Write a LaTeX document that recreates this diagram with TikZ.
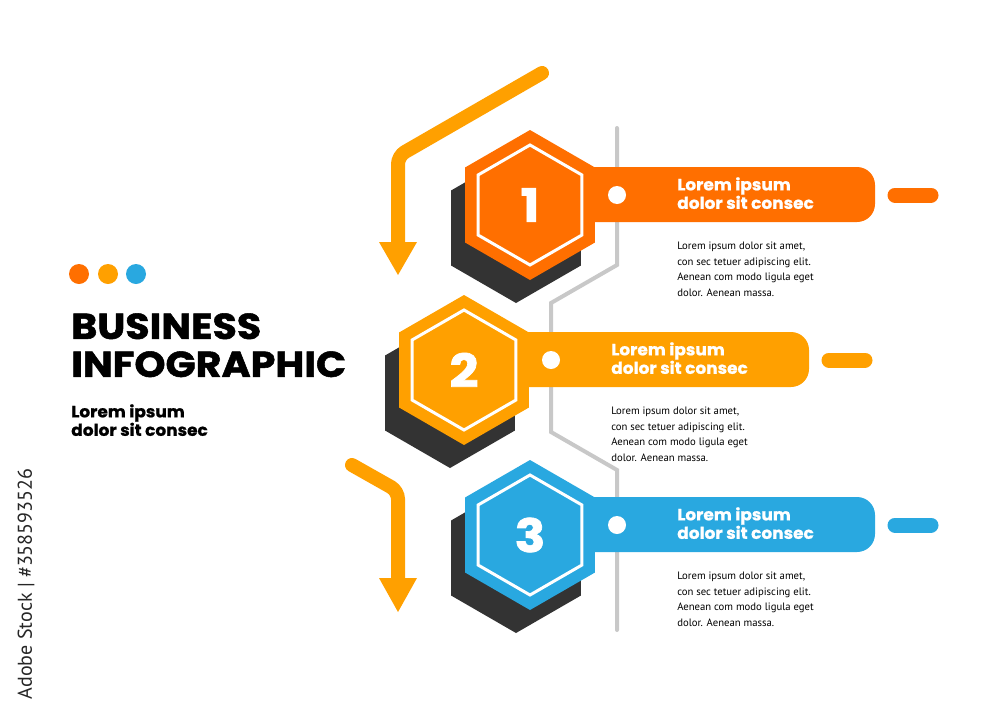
\documentclass[tikz,border=0pt]{standalone}
\usepackage{fontspec}
\usepackage{xcolor}
\usepackage{tikz}
\usetikzlibrary{arrows.meta}
\setmainfont{PT Sans}
\newfontfamily\headfont{Poppins}[BoldFeatures={FakeStretch=1.04,FakeBold=1}]
\newfontfamily\titlefont{Poppins}[BoldFeatures={FakeStretch=1.1,FakeBold=1.5}]
\definecolor{hexorange}{RGB}{255,111,0}
\definecolor{hexamber}{RGB}{255,160,0}
\definecolor{hexblue}{RGB}{41,168,224}
\definecolor{hexshadow}{RGB}{51,51,51}
\definecolor{guidegray}{RGB}{200,200,200}
\tikzset{every picture/.style={line width=.55pt}}

\begin{document}
\begin{tikzpicture}[x=1pt,y=-1pt,
 every node/.style={inner sep=0pt},
 headtext/.style={font=\headfont\bfseries\fontsize{16.3}{18.5}\selectfont,
  align=left,anchor=north west},
 bodytext/.style={font=\fontsize{10.7}{15.5}\selectfont,
  align=left,anchor=north west}]
 \useasboundingbox (0,0) rectangle (1000,707);
 \fill[white] (0,0) rectangle (1000,707);

 % Grey guide line, it runs behind the tabs.
 \draw[guidegray,line width=4pt,line cap=round]
  (617,128)--(617,265)--(551,303)--(551,432)--(617,470)--(617,630);

 % Two bent arrows left of the hexagons.
 \coordinate (arrowA) at (542,73);
 \coordinate (bendA) at (398,156);
 \coordinate (headA) at (398,244);
 \coordinate (arrowB) at (352,465);
 \coordinate (bendB) at (398,491);
 \coordinate (headB) at (398,580);
 \draw[hexamber,line width=14pt,line cap=round,rounded corners=8pt]
  (arrowA)--(bendA)--(headA);
 \draw[hexamber,line width=14pt,line cap=round,rounded corners=8pt]
  (arrowB)--(bendB)--(headB);
 \fill[hexamber] (379,242)--(417,242)--(398,275)--cycle;
 \fill[hexamber] (379,578)--(417,578)--(398,612)--cycle;

 % Three steps: shadow, tab, hexagon, texts.
 \foreach \cx/\cy/\col/\num in {530/205/hexorange/1,464/370/hexamber/2,
  530/535/hexblue/3}{
  \begin{scope}[shift={(\cx,\cy)}]
   \fill[hexshadow] (-14,23) +(30:75)--+(90:75)--+(150:75)--+(210:75)
    --+(270:75)--+(330:75)--cycle;
   \fill[\col,rounded corners=18pt] (0,-38) rectangle (345,17);
   \fill[\col] (30:75)--(90:75)--(150:75)--(210:75)--(270:75)--(330:75)
    --cycle;
   \draw[white,line width=3pt] (30:60)--(90:60)--(150:60)--(210:60)
    --(270:60)--(330:60)--cycle;
   \node[font=\titlefont\bfseries\fontsize{46}{46}\selectfont,text=white]
    (num\num) at (0,0) {\num};
   \fill[white] (87,-10) circle (9);
   \draw[\col,line width=15pt,line cap=round] (365,-10)--(401,-10);
   \node[headtext,text=white] (tab\num) at (147,-28)
    {Lorem ipsum\\dolor sit consec};
   \node[bodytext] (txt\num) at (147,37)
    {Lorem ipsum dolor sit amet,\\con sec tetuer adipiscing elit.\\
     Aenean com modo ligula eget\\dolor. Aenean massa.};
  \end{scope}
 }

 % Title block on the left.
 \foreach \xx/\col in {79/hexorange,108/hexamber,136/hexblue}
  \fill[\col] (\xx,274) circle (10);
 \node[anchor=north west,align=left,
  font=\titlefont\bfseries\fontsize{36}{38}\selectfont] (title) at (71,313)
  {BUSINESS\\INFOGRAPHIC};
 \node[headtext,text=black] (subtitle) at (71,404)
  {Lorem ipsum\\dolor sit consec};
 \node[rotate=90,font=\fontsize{20}{20}\selectfont,text=black!85]
  (stockid) at (26,584) {Adobe Stock | \#358593526};
\end{tikzpicture}
\end{document}
